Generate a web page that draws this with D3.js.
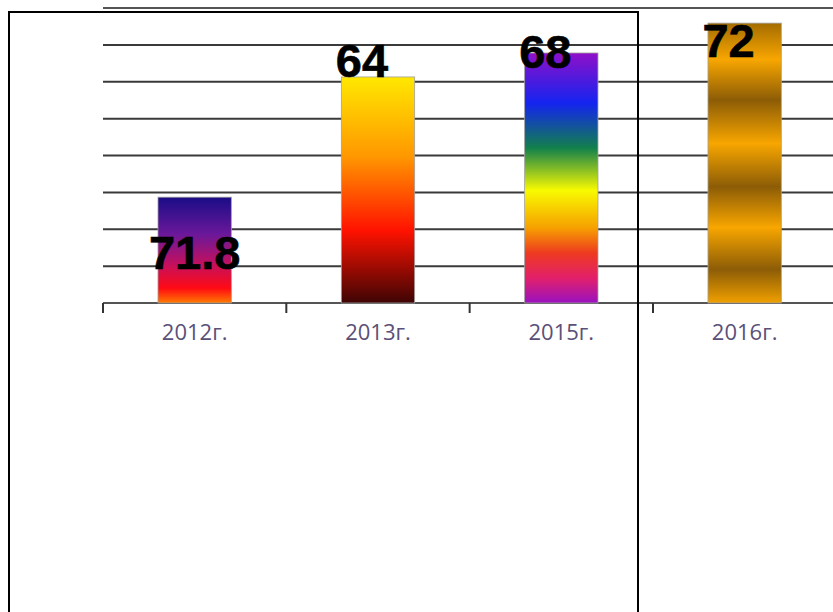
<!DOCTYPE html>
<html>
<head>
<meta charset="utf-8">
<script src="https://cdn.jsdelivr.net/npm/d3@7"></script>
<style>
html,body{margin:0;padding:0;background:#fff;}
svg{display:block;}
</style>
</head>
<body>
<script>
// ---- data ----
const categories = ["2012г.", "2013г.", "2015г.", "2016г."];
const barValues = [28.7, 61.3, 67.8, 75.9];        // bar heights as drawn
const labelTexts = ["71.8", "64", "68", "72"];       // data labels as printed
const yTicks = [0, 10, 20, 30, 40, 50, 60, 70, 80];

const W = 833, H = 612;
const svg = d3.select("body").append("svg").attr("width", W).attr("height", H);
const defs = svg.append("defs");

const x = d3.scaleBand().domain(categories).range([103, 836.3]).paddingInner(0.6).paddingOuter(0.3);
const y = d3.scaleLinear().domain([0, 80]).range([303, 8]);

// gradients
const grads = [
  [[0,"#1a0c86"],[0.35,"#6a189a"],[0.65,"#c8105a"],[0.86,"#ff0a14"],[1,"#ff7a00"]],
  [[0,"#ffe800"],[0.35,"#ff9800"],[0.68,"#ff1200"],[1,"#3e0404"]],
  [[0,"#9010c8"],[0.2,"#1424f0"],[0.38,"#12804c"],[0.55,"#f8fa00"],[0.7,"#f6a000"],[0.8,"#ee3a20"],[0.9,"#e2206a"],[1,"#9a12c0"]],
  [[0,"#a46c00"],[0.13,"#f8a600"],[0.275,"#8c5c06"],[0.43,"#f8a600"],[0.585,"#8c5c06"],[0.73,"#f8a600"],[0.88,"#8c5c06"],[1,"#f0a000"]]
];
grads.forEach((stops, i) => {
  const g = defs.append("linearGradient").attr("id", "g" + i)
    .attr("x1", 0).attr("y1", 0).attr("x2", 0).attr("y2", 1);
  stops.forEach(s => g.append("stop").attr("offset", s[0]).attr("stop-color", s[1]));
});

// gridlines
svg.append("g").selectAll("line").data(yTicks.slice(1)).join("line")
  .attr("x1", 103).attr("x2", W)
  .attr("y1", d => y(d)).attr("y2", d => y(d))
  .attr("stroke", d => d === 80 ? "#555" : "#3a3a3a").attr("stroke-width", 2);

// x axis
const xAxis = d3.axisBottom(x).tickSize(0).tickPadding(26);
const ax = svg.append("g").attr("transform", `translate(0,${y(0)})`).call(xAxis);
ax.select(".domain").remove();
ax.selectAll("text").attr("font-family", "'Open Sans', sans-serif").attr("font-size", 22)
  .attr("fill", "#5a5078").attr("dy", "0.5em");
svg.append("line").attr("x1", 103).attr("x2", W).attr("y1", y(0)).attr("y2", y(0))
  .attr("stroke", "#555").attr("stroke-width", 2);
const step = x.step();
const boundaries = d3.range(categories.length + 1).map(i => 103 + i * step);
svg.append("g").selectAll("line").data(boundaries).join("line")
  .attr("x1", d => d).attr("x2", d => d).attr("y1", y(0)).attr("y2", y(0) + 10)
  .attr("stroke", "#333").attr("stroke-width", 2);

// bars
svg.append("g").selectAll("rect").data(barValues).join("rect")
  .attr("x", (d, i) => x(categories[i]))
  .attr("y", d => y(d))
  .attr("width", x.bandwidth())
  .attr("height", d => y(0) - y(d))
  .attr("fill", (d, i) => `url(#g${i})`)
  .attr("stroke", "#a0a0a0").attr("stroke-width", 0.8);

// labels
svg.append("g").selectAll("text").data(labelTexts).join("text")
  .attr("x", (d, i) => x(categories[i]) + x.bandwidth() / 2 + (i === 0 ? 0 : -16))
  .attr("y", (d, i) => i === 0 ? y(0) - 34 : y(barValues[i]) + [0, 0, 15, 34][i])
  .attr("text-anchor", "middle")
  .attr("font-family", "'Liberation Sans', Arial, sans-serif")
  .attr("font-weight", "bold").attr("font-size", 47)
  .attr("fill", "#000")
  .attr("stroke", "#000").attr("stroke-width", 0.6)
  .text(d => d);

// black frame overlay
svg.append("path")
  .attr("d", `M9,${H + 5} L9,12 L638,12 L638,${H + 5}`)
  .attr("fill", "none").attr("stroke", "#000").attr("stroke-width", 2);
</script>
</body>
</html>
